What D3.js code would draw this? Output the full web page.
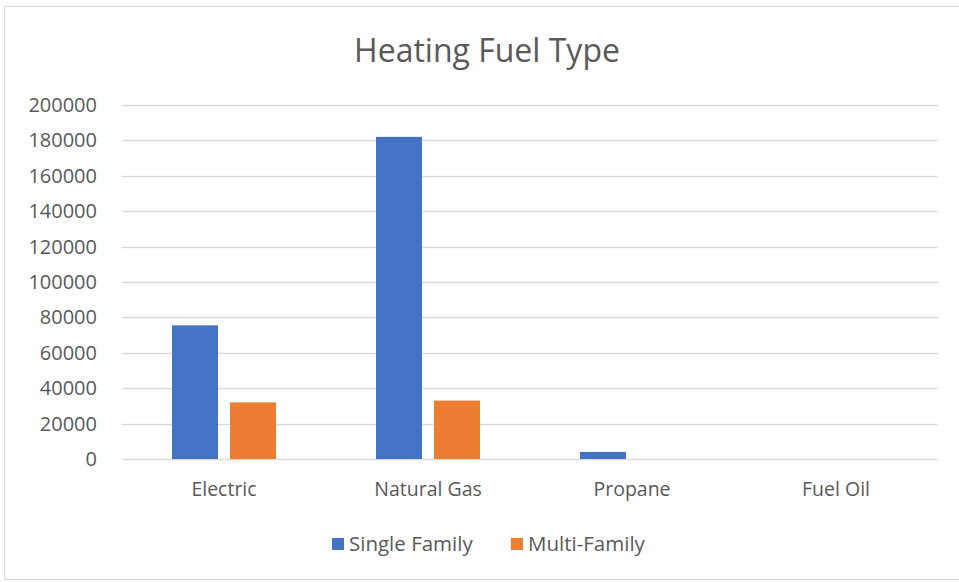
<!DOCTYPE html>
<html>
<head>
<meta charset="utf-8">
<script src="https://cdn.jsdelivr.net/npm/d3@7"></script>
<style>
  body { margin: 0; background: #fff; }
  text { font-family: "Open Sans", "Noto Sans", sans-serif; fill: #595959; }
</style>
</head>
<body>
<svg id="viz"></svg>
<script>
// ----------------------- DATA
const categories = ['Electric', 'Natural Gas', 'Propane', 'Fuel Oil'];
const seriesNames = ['Single Family', 'Multi-Family'];
const singleFamily = [75500, 182000, 4000, 0];
const multiFamily = [32000, 33000, 0, 0];
const yTicks = [0, 20000, 40000, 60000, 80000, 100000, 120000, 140000, 160000, 180000, 200000];
const colors = ['#4472c4', '#ed7d31'];

// ----------------------- SETTINGS
const W = 959, H = 582;
const plot = { left: 122, right: 938, top: 105, bottom: 459 };

const svg = d3.select('#viz')
  .attr('width', W)
  .attr('height', H);

// chart frame
svg.append('rect')
  .attr('x', 4.5).attr('y', 6.5)
  .attr('width', 960).attr('height', 573)
  .attr('fill', '#fff')
  .attr('stroke', '#d9d9d9');

// ----------------------- SCALES
const x0 = d3.scaleBand()
  .domain(categories)
  .range([plot.left, plot.right])
  .padding(0);

// two bars per category, ~46px wide with a 12px gap
const x1 = d3.scaleBand()
  .domain(seriesNames)
  .range([0, x0.bandwidth()])
  .paddingInner(0.207)
  .paddingOuter(0.862);

const y = d3.scaleLinear()
  .domain([0, 200000])
  .range([plot.bottom, plot.top]);

// gridlines
svg.append('g')
  .selectAll('line')
  .data(yTicks)
  .enter().append('line')
  .attr('x1', plot.left).attr('x2', plot.right)
  .attr('y1', d => Math.round(y(d)) + 0.5)
  .attr('y2', d => Math.round(y(d)) + 0.5)
  .attr('stroke', '#d9d9d9')
  .attr('stroke-width', 1.3);

// y axis labels
const yAxis = d3.axisLeft(y)
  .tickValues(yTicks)
  .tickSize(0)
  .tickPadding(0)
  .tickFormat(d3.format('d'));

svg.append('g')
  .attr('transform', `translate(${plot.left - 25}, 0)`)
  .call(yAxis)
  .call(g => g.select('.domain').remove())
  .selectAll('text')
  .attr('fill', '#595959')
  .style('font-size', '20px')
  .style('font-family', '"Open Sans", sans-serif');

// bars
const data = categories.map((c, i) => ({ cat: c, values: [singleFamily[i], multiFamily[i]] }));

const groups = svg.append('g')
  .selectAll('g')
  .data(data)
  .enter().append('g')
  .attr('transform', d => `translate(${x0(d.cat)}, 0)`);

groups.selectAll('rect')
  .data(d => d.values.map((v, j) => ({ name: seriesNames[j], v, j })))
  .enter().append('rect')
  .attr('x', d => x1(d.name))
  .attr('width', x1.bandwidth())
  .attr('y', d => y(d.v))
  .attr('height', d => y(0) - y(d.v))
  .attr('fill', d => colors[d.j]);

// x axis
const xAxis = d3.axisBottom(x0)
  .tickSize(0)
  .tickPadding(0);

svg.append('g')
  .attr('transform', `translate(0, ${plot.bottom + 23})`)
  .call(xAxis)
  .call(g => g.select('.domain').remove())
  .selectAll('text')
  .attr('fill', '#595959')
  .style('font-size', '19.5px')
  .style('font-family', '"Open Sans", sans-serif');

// title
svg.append('text')
  .attr('x', 487)
  .attr('y', 62)
  .attr('text-anchor', 'middle')
  .style('font-size', '32px')
  .text('Heating Fuel Type');

// legend
const legendX = [332, 511];
const legend = svg.append('g')
  .selectAll('g')
  .data(seriesNames)
  .enter().append('g')
  .attr('transform', (d, i) => `translate(${legendX[i]}, 538)`);

legend.append('rect')
  .attr('width', 12).attr('height', 12)
  .attr('fill', (d, i) => colors[i]);

legend.append('text')
  .attr('x', 17)
  .attr('y', 13)
  .style('font-size', '20.5px')
  .text(d => d);
</script>
</body>
</html>
